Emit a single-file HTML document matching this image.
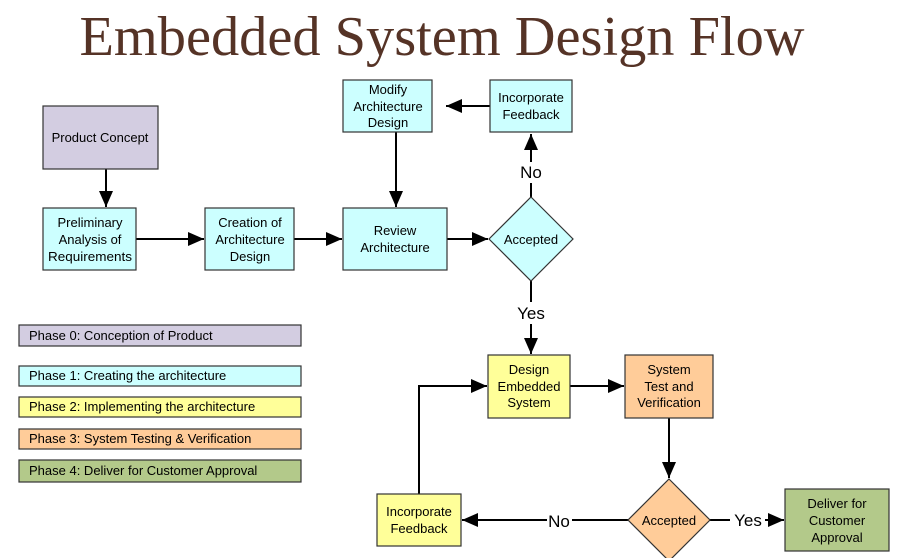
<!DOCTYPE html>
<html><head><meta charset="utf-8"><style>
html,body{margin:0;padding:0;background:#fff;}
svg{display:block;}
.t{font-family:"Liberation Sans",Arial,sans-serif;font-size:13px;fill:#000;text-anchor:middle;}
.l{font-family:"Liberation Sans",Arial,sans-serif;font-size:13px;fill:#000;}
.b{stroke:#333;stroke-width:1.2;}
.ln{stroke:#000;stroke-width:2;fill:none;}
.lab{font-family:"Liberation Sans",Arial,sans-serif;font-size:17px;fill:#000;text-anchor:middle;}
</style></head><body>
<svg width="901" height="558" viewBox="0 0 901 558" xmlns="http://www.w3.org/2000/svg">
<defs>
<marker id="h" viewBox="0 0 16 14" markerWidth="16" markerHeight="14" refX="16" refY="7" orient="auto" markerUnits="userSpaceOnUse"><path d="M0,0 L16,7 L0,14 z" fill="#000"/></marker></defs>
<text x="442" y="55" textLength="725" lengthAdjust="spacingAndGlyphs" text-anchor="middle" style="font-family:'Liberation Serif',serif;font-size:56px;fill:#553326;">Embedded System Design Flow</text>

<line class="ln" x1="106" y1="169" x2="106" y2="207" marker-end="url(#h)"/>
<line class="ln" x1="136" y1="239" x2="204" y2="239" marker-end="url(#h)"/>
<line class="ln" x1="294" y1="239" x2="342" y2="239" marker-end="url(#h)"/>
<line class="ln" x1="447" y1="239" x2="488" y2="239" marker-end="url(#h)"/>
<line class="ln" x1="396" y1="132" x2="396" y2="207" marker-end="url(#h)"/>
<line class="ln" x1="490" y1="106" x2="446" y2="106" marker-end="url(#h)"/>
<line class="ln" x1="531" y1="197" x2="531" y2="183"/>
<line class="ln" x1="531" y1="162" x2="531" y2="134" marker-end="url(#h)"/>
<line class="ln" x1="531" y1="281" x2="531" y2="302"/>
<line class="ln" x1="531" y1="324" x2="531" y2="354" marker-end="url(#h)"/>
<line class="ln" x1="570" y1="386" x2="624" y2="386" marker-end="url(#h)"/>
<line class="ln" x1="669" y1="418" x2="669" y2="478" marker-end="url(#h)"/>
<polyline class="ln" points="419,494 419,386 487,386" marker-end="url(#h)"/>
<line class="ln" x1="628" y1="520" x2="572" y2="520"/>
<line class="ln" x1="547" y1="520" x2="462" y2="520" marker-end="url(#h)"/>
<line class="ln" x1="710" y1="520" x2="730" y2="520"/>
<line class="ln" x1="765" y1="520" x2="784" y2="520" marker-end="url(#h)"/>
<text class="lab" x="531" y="178">No</text>
<text class="lab" x="531" y="319">Yes</text>
<text class="lab" x="559" y="527">No</text>
<text class="lab" x="748" y="526">Yes</text>

<rect class="b" x="43" y="106" width="115" height="63" fill="#d3cde1"/>
<text class="t" x="100" y="142">Product Concept</text>
<rect class="b" x="43" y="208" width="93" height="62" fill="#ccffff"/>
<text class="t" x="90" y="227">Preliminary</text><text class="t" x="90" y="244">Analysis of</text><text class="t" x="90" y="261" textLength="84" lengthAdjust="spacingAndGlyphs">Requirements</text>
<rect class="b" x="205" y="208" width="89" height="62" fill="#ccffff"/>
<text class="t" x="250" y="227">Creation of</text><text class="t" x="250" y="244">Architecture</text><text class="t" x="250" y="261">Design</text>
<rect class="b" x="343" y="208" width="104" height="62" fill="#ccffff"/>
<text class="t" x="395" y="235">Review</text><text class="t" x="395" y="252">Architecture</text>
<rect class="b" x="343" y="80" width="89" height="52" fill="#ccffff"/>
<text class="t" x="388" y="94">Modify</text><text class="t" x="388" y="111">Architecture</text><text class="t" x="388" y="127">Design</text>
<rect class="b" x="490" y="80" width="82" height="52" fill="#ccffff"/>
<text class="t" x="531" y="102">Incorporate</text><text class="t" x="531" y="119">Feedback</text>
<polygon class="b" points="531,197 573,239 531,281 489,239" fill="#ccffff"/>
<text class="t" x="531" y="244">Accepted</text>

<rect class="b" x="488" y="355" width="82" height="63" fill="#ffff99"/>
<text class="t" x="529" y="374">Design</text><text class="t" x="529" y="391">Embedded</text><text class="t" x="529" y="407">System</text>
<rect class="b" x="625" y="355" width="88" height="63" fill="#ffcc99"/>
<text class="t" x="669" y="374">System</text><text class="t" x="669" y="391">Test and</text><text class="t" x="669" y="407">Verification</text>
<polygon class="b" points="669,479 710,520 669,561 628,520" fill="#ffcc99"/>
<text class="t" x="669" y="525">Accepted</text>
<rect class="b" x="377" y="494" width="84" height="52" fill="#ffff99"/>
<text class="t" x="419" y="516">Incorporate</text><text class="t" x="419" y="533">Feedback</text>
<rect class="b" x="785" y="489" width="104" height="62" fill="#b3c98a"/>
<text class="t" x="837" y="508">Deliver for</text><text class="t" x="837" y="525">Customer</text><text class="t" x="837" y="542">Approval</text>

<rect class="b" x="19" y="325" width="282" height="21" fill="#d3cde1"/>
<text class="l" x="29" y="340">Phase 0: Conception of Product</text>
<rect class="b" x="19" y="366" width="282" height="20" fill="#ccffff"/>
<text class="l" x="29" y="380">Phase 1: Creating the architecture</text>
<rect class="b" x="19" y="397" width="282" height="20" fill="#ffff99"/>
<text class="l" x="29" y="411">Phase 2: Implementing the architecture</text>
<rect class="b" x="19" y="429" width="282" height="20" fill="#ffcc99"/>
<text class="l" x="29" y="443">Phase 3: System Testing &amp; Verification</text>
<rect class="b" x="19" y="460" width="282" height="22" fill="#b3c98a"/>
<text class="l" x="29" y="475">Phase 4: Deliver for Customer Approval</text>
</svg>
</body></html>
